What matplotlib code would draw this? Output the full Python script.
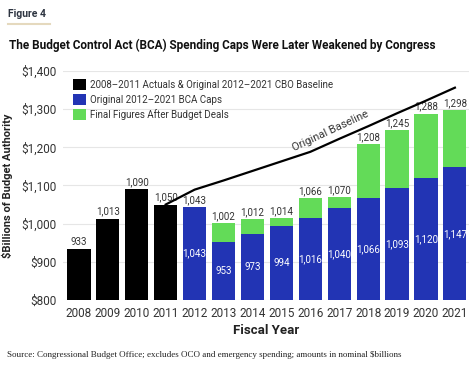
import matplotlib.pyplot as plt
import numpy as np

years = [2008, 2009, 2010, 2011, 2012, 2013, 2014, 2015,
         2016, 2017, 2018, 2019, 2020, 2021]
actuals = [933, 1013, 1090, 1050]
bca_caps = [1043, 953, 973, 994, 1016, 1040, 1066, 1093, 1120, 1147]
final_figures = [1043, 1002, 1012, 1014, 1066, 1070, 1208, 1245, 1288, 1298]
baseline_years = [2011, 2012, 2013, 2014, 2015, 2016, 2017, 2018, 2019, 2020, 2021]
baseline = [1050, 1089, 1113, 1138, 1163, 1188, 1222, 1255, 1289, 1322, 1356]
yticks = [800, 900, 1000, 1100, 1200, 1300, 1400]

BLACK = "#000000"
BLUE = "#2234b4"
GREEN = "#63db58"
TXT = "#333333"

plt.rcParams['font.family'] = ['Roboto', 'DejaVu Sans']

fig = plt.figure(figsize=(4.74, 3.75), dpi=100)
ax = fig.add_axes([0.133, 0.2, 0.856, 0.611])

x_all = np.arange(len(years))
x_act = x_all[:4]
x_bca = x_all[4:]
w = 0.8
base = 800

ax.bar(x_act, np.array(actuals) - base, bottom=base, width=w, color=BLACK,
       label="2008\u20132011 Actuals & Original 2012\u20132021 CBO Baseline", zorder=3)
ax.bar(x_bca, np.array(bca_caps) - base, bottom=base, width=w, color=BLUE,
       label="Original 2012\u20132021 BCA Caps", zorder=3)
ax.bar(x_bca, np.array(final_figures) - np.array(bca_caps), bottom=bca_caps, width=w,
       color=GREEN, label="Final Figures After Budget Deals", zorder=3)

# baseline line
bx = [years.index(y) for y in baseline_years]
ax.plot(bx, baseline, color=BLACK, lw=1.6, zorder=4)
ax.text(8.7, 1242, "Original Baseline", rotation=25, fontsize=8, color=TXT,
        ha="center", va="center", zorder=5)

# labels on top
for xi, v in zip(x_act, actuals):
    ax.annotate(f"{v:,}", (xi, v), xytext=(0, 1.5), textcoords="offset points",
                ha="center", va="bottom", fontsize=7, color=TXT)
for xi, v in zip(x_bca, final_figures):
    ax.annotate(f"{v:,}", (xi, v), xytext=(0, 1.5), textcoords="offset points",
                ha="center", va="bottom", fontsize=7, color=TXT)
# labels inside blue
for xi, v in zip(x_bca, bca_caps):
    ax.text(xi, (base + v) / 2, f"{v:,}", ha="center", va="center",
            fontsize=7, color="white", zorder=5)

ax.set_ylim(800, 1400)
ax.set_xlim(-0.55, 13.48)
ax.set_yticks(yticks)
ax.set_yticklabels([f"${v:,}" for v in yticks])
ax.set_xticks(x_all)
ax.set_xticklabels([str(y) for y in years])
ax.tick_params(length=0, labelsize=8.5, labelcolor=TXT, pad=5)
ax.grid(axis="y", color="#e6e6e6", lw=0.8, zorder=0)
for s in ax.spines.values():
    s.set_visible(False)

ax.set_xlabel("Fiscal Year", fontsize=9.5, fontweight="bold", color="#222222", labelpad=3)
ax.set_ylabel("$Billions of Budget Authority", fontsize=8, fontweight="bold",
              color="#222222", labelpad=6)

leg = ax.legend(loc="upper left", bbox_to_anchor=(0.01, 0.99), frameon=False,
                fontsize=7, handlelength=1.3, handleheight=1.3, labelspacing=0.45,
                handletextpad=0.5, borderaxespad=0.2)
for t in leg.get_texts():
    t.set_color(TXT)

fig.text(0.017, 0.962, "Figure 4", fontsize=7.5, fontweight="bold", color="#2d3440",
         ha="left", va="center")
fig.add_artist(plt.Line2D([0.017, 0.106], [0.936, 0.936], color="#e5d9be", lw=1.5))
fig.text(0.02, 0.88, "The Budget Control Act (BCA) Spending Caps Were Later Weakened by Congress",
         fontsize=8.5, fontweight="bold", color="#111111", ha="left", va="center")
fig.text(0.015, 0.053,
         "Source: Congressional Budget Office; excludes OCO and emergency spending; amounts in nominal $billions",
         fontsize=6.5, family="Liberation Serif", color="#222222", ha="left", va="center")

fig.savefig("out.png", dpi=100)
